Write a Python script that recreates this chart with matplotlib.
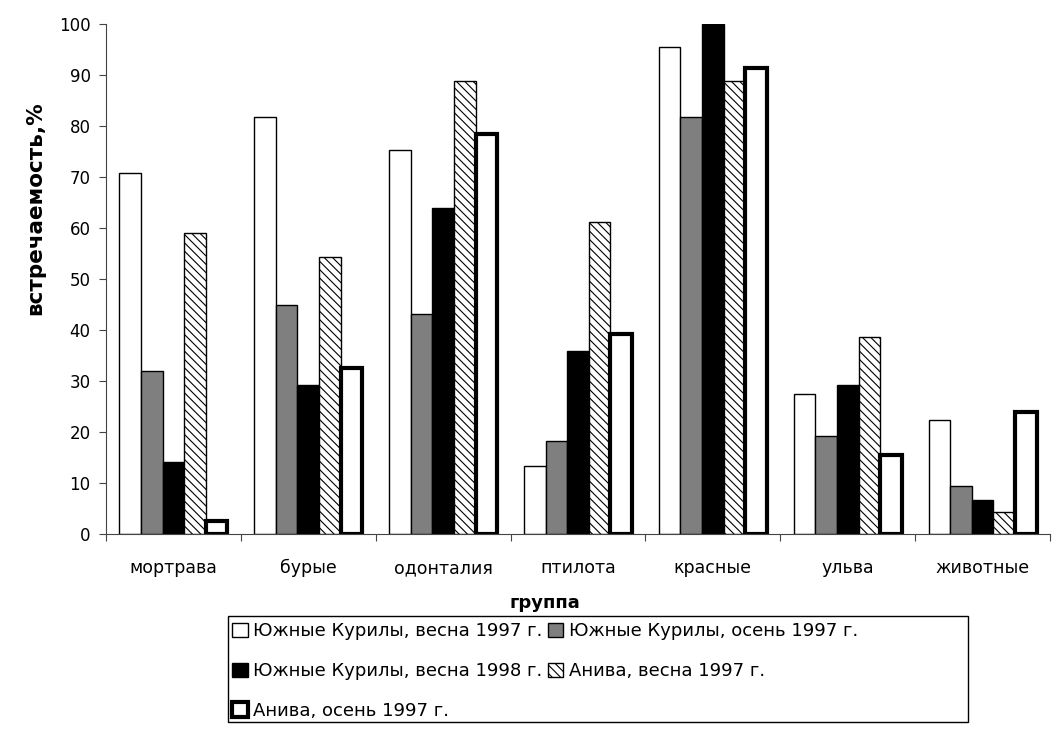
import matplotlib
matplotlib.use("Agg")
import matplotlib.pyplot as plt
import numpy as np
from matplotlib.patches import Patch, Rectangle

plt.rcParams['font.family'] = ['DejaVu Sans']
plt.rcParams['hatch.linewidth'] = 0.8

categories = ["мортрава", "бурые", "одонталия", "птилота", "красные", "ульва", "животные"]
series_names = ["Южные Курилы, весна 1997 г.",
                "Южные Курилы, осень 1997 г.",
                "Южные Курилы, весна 1998 г.",
                "Анива, весна 1997 г.",
                "Анива, осень 1997 г."]
kur_spring97 = [70.7, 81.8, 75.2, 13.4, 95.4, 27.4, 22.4]
kur_autumn97 = [32.0, 44.9, 43.1, 18.3, 81.8, 19.2, 9.4]
kur_spring98 = [14.1, 29.2, 64.0, 35.9, 100.0, 29.2, 6.7]
aniva_spring97 = [59.0, 54.4, 88.8, 61.2, 88.8, 38.6, 4.4]
aniva_autumn97 = [2.6, 32.5, 78.4, 39.2, 91.4, 15.5, 23.9]
y_ticks = [0, 10, 20, 30, 40, 50, 60, 70, 80, 90, 100]

series = [kur_spring97, kur_autumn97, kur_spring98, aniva_spring97, aniva_autumn97]
styles = [dict(facecolor='white', edgecolor='black', linewidth=1.0),
          dict(facecolor='#7f7f7f', edgecolor='black', linewidth=1.0),
          dict(facecolor='black', edgecolor='black', linewidth=1.0),
          dict(facecolor='white', edgecolor='black', linewidth=1.0, hatch='\\\\\\\\'),
          dict(facecolor='white', edgecolor='black', linewidth=3.0)]

fig = plt.figure(figsize=(10.56, 7.45), dpi=100)
ax = fig.add_axes([106/1056, 1-534/745, (1050-106)/1056, (534-24)/745])

n = len(categories)
w = 0.16
x0 = np.arange(n) + 0.1
handles = []
for k, (vals, st) in enumerate(zip(series, styles)):
    ax.bar(x0 + k*w + w/2, vals, width=w, align='center', **st)
    handles.append(Patch(label=series_names[k], **st))

ax.set_xlim(0, n)
ax.set_ylim(0, 100)
ax.set_yticks(y_ticks)
ax.set_xticks(np.arange(n+1))
ax.set_xticklabels([])
ax.set_xticks(np.arange(n) + 0.5, minor=True)
ax.set_xticklabels(categories, minor=True, fontsize=12.5)
ax.tick_params(axis='x', which='minor', length=0, pad=18)
ax.tick_params(axis='x', which='major', length=5, direction='out', color='#444444')
ax.tick_params(axis='y', length=5, direction='out', labelsize=12, pad=6, color='#444444')
for s in ['top', 'right']:
    ax.spines[s].set_visible(False)
ax.spines['left'].set_color('#444444')
ax.spines['bottom'].set_color('#444444')

fig.text(35/1056, 1-208/745, "встречаемость,%", rotation=90, ha='center', va='center',
         fontsize=15.5, fontweight='bold')
fig.text(545/1056, 1-603/745, "группа", ha='center', va='center', fontsize=13, fontweight='bold')

order = [0, 2, 4, 1, 3]
leg = fig.legend([handles[i] for i in order], [series_names[i] for i in order],
                 ncol=2, loc='upper left', bbox_to_anchor=(226/1056, 1-616/745),
                 fontsize=13, frameon=False,
                 handlelength=0.85, handleheight=0.85, handletextpad=0.3,
                 labelspacing=1.2, columnspacing=0.3, borderpad=0.35, borderaxespad=0)
# legend frame spanning the same box as the original
fig.patches.append(Rectangle((228/1056, 1-722/745), (968-228)/1056, (722-616)/745,
                             transform=fig.transFigure, fill=False, edgecolor='black',
                             linewidth=1.0, zorder=5))

fig.savefig("out.png", dpi=100, facecolor='white')
